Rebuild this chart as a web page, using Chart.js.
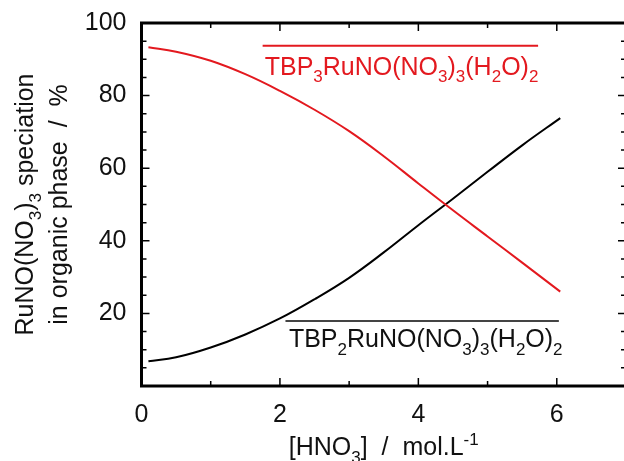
<!DOCTYPE html>
<html>
<head>
<meta charset="utf-8">
<script src="https://cdn.jsdelivr.net/npm/chart.js@4.4.0/dist/chart.umd.min.js"></script>
<style>
    html, body { margin: 0; padding: 0; background: #fff; overflow: hidden; }
    #wrap { width: 632px; height: 461px; }
</style>
</head>
<body>
<div id="wrap"><canvas id="chart" width="632" height="461"></canvas></div>
<script>
// [HNO3] in mol/L and the share of each complex in the organic phase (%)
const hno3 = [0.1, 0.5, 1, 1.5, 2, 2.5, 3, 3.5, 4, 4.5, 5, 5.5, 6.05];
const tbp3Share = [93.3, 92.1, 89.6, 85.9, 81.3, 76.1, 70.2, 63.3, 55.8, 48.4, 41.2, 34.0, 26.0];
const tbp2Share = [6.8, 7.9, 10.6, 14.2, 18.6, 23.9, 29.8, 36.8, 44.3, 51.6, 59.0, 66.3, 73.8];
const xRange = [0, 7];
const yRange = [0, 100];

const RED = '#e3191f';
const FONT = "'Liberation Sans', Arial, sans-serif";

// rich text pieces: [text, kind] where kind is n / sub / sup
const tbp3Label = [['TBP', 'n'], ['3', 'sub'], ['RuNO(NO', 'n'], ['3', 'sub'], [')', 'n'], ['3', 'sub'], ['(H', 'n'], ['2', 'sub'], ['O)', 'n'], ['2', 'sub']];
const tbp2Label = [['TBP', 'n'], ['2', 'sub'], ['RuNO(NO', 'n'], ['3', 'sub'], [')', 'n'], ['3', 'sub'], ['(H', 'n'], ['2', 'sub'], ['O)', 'n'], ['2', 'sub']];
const yTitle1 = [['RuNO(NO', 'n'], ['3', 'sub'], [')', 'n'], ['3', 'sub'], [' speciation', 'n']];
const yTitle2 = [['in organic phase  /  %', 'n']];
const xTitle = [['[HNO', 'n'], ['3', 'sub'], [']  /  mol.L', 'n'], ['-1', 'sup']];

function richWidth(ctx, segs, size) {
    let w = 0;
    segs.forEach(([t, k]) => {
        ctx.font = (k === 'n' ? size : Math.round(size * 0.68)) + 'px ' + FONT;
        w += ctx.measureText(t).width;
    });
    return w;
}

function drawRich(ctx, segs, x, y, size, color, align) {
    ctx.save();
    ctx.fillStyle = color;
    ctx.textBaseline = 'alphabetic';
    ctx.textAlign = 'left';
    let cx = x;
    if (align === 'center') cx = x - richWidth(ctx, segs, size) / 2;
    segs.forEach(([t, k]) => {
        const s = k === 'n' ? size : Math.round(size * 0.68);
        ctx.font = s + 'px ' + FONT;
        let dy = 0;
        if (k === 'sub') dy = size * 0.3;
        if (k === 'sup') dy = -size * 0.42;
        ctx.fillText(t, cx, y + dy);
        cx += ctx.measureText(t).width;
    });
    ctx.restore();
}

const decorations = {
    id: 'decorations',
    afterDraw(chart) {
        const { ctx, chartArea: a, scales } = chart;
        const xs = scales.x, ys = scales.y;
        ctx.save();

        // inward tick marks on all four sides
        ctx.strokeStyle = '#000';
        ctx.lineWidth = 1.5;
        ctx.beginPath();
        for (let v = 5; v < 100; v += 5) {
            const py = ys.getPixelForValue(v);
            const len = v % 20 === 0 ? 8 : 5;
            ctx.moveTo(a.left, py); ctx.lineTo(a.left + len, py);
            ctx.moveTo(a.right, py); ctx.lineTo(a.right - len, py);
        }
        for (let v = 1; v < 7; v++) {
            const px = xs.getPixelForValue(v);
            const len = v % 2 === 0 ? 8 : 5;
            ctx.moveTo(px, a.bottom); ctx.lineTo(px, a.bottom - len);
            ctx.moveTo(px, a.top); ctx.lineTo(px, a.top + len);
        }
        ctx.stroke();

        // frame
        ctx.lineWidth = 3;
        ctx.strokeRect(a.left, a.top, a.right - a.left, a.bottom - a.top);

        // curve labels with their overlines
        ctx.lineWidth = 2;
        ctx.strokeStyle = RED;
        ctx.beginPath();
        ctx.moveTo(xs.getPixelForValue(1.75), ys.getPixelForValue(93.7));
        ctx.lineTo(xs.getPixelForValue(5.73), ys.getPixelForValue(93.7));
        ctx.stroke();
        drawRich(ctx, tbp3Label, xs.getPixelForValue(1.78), ys.getPixelForValue(85.7), 25, RED, 'left');

        ctx.strokeStyle = '#444';
        ctx.beginPath();
        ctx.moveTo(xs.getPixelForValue(2.08), ys.getPixelForValue(17.9));
        ctx.lineTo(xs.getPixelForValue(6.03), ys.getPixelForValue(17.9));
        ctx.stroke();
        drawRich(ctx, tbp2Label, xs.getPixelForValue(2.13), ys.getPixelForValue(10.7), 25, '#111', 'left');

        // axis titles
        drawRich(ctx, xTitle, (a.left + a.right) / 2, 455, 25, '#111', 'center');
        const midY = (a.top + a.bottom) / 2;
        ctx.translate(33, midY);
        ctx.rotate(-Math.PI / 2);
        drawRich(ctx, yTitle1, 0, 0, 25, '#111', 'center');
        ctx.restore();
        ctx.save();
        ctx.translate(67, midY);
        ctx.rotate(-Math.PI / 2);
        drawRich(ctx, yTitle2, 0, 0, 25, '#111', 'center');
        ctx.restore();
    }
};

new Chart(document.getElementById('chart'), {
    type: 'line',
    data: {
        datasets: [{
            label: 'TBP3RuNO(NO3)3(H2O)2',
            data: hno3.map((x, i) => ({ x: x, y: tbp3Share[i] })),
            borderColor: RED,
            borderWidth: 2,
            pointRadius: 0,
            tension: 0.4,
            fill: false
        }, {
            label: 'TBP2RuNO(NO3)3(H2O)2',
            data: hno3.map((x, i) => ({ x: x, y: tbp2Share[i] })),
            borderColor: '#000',
            borderWidth: 2,
            pointRadius: 0,
            tension: 0.4,
            fill: false
        }]
    },
    options: {
        responsive: false,
        animation: false,
        devicePixelRatio: 1,
        layout: { padding: { top: 23, right: 6, left: 0, bottom: 0 } },
        plugins: { legend: { display: false }, tooltip: { enabled: false } },
        scales: {
            x: {
                type: 'linear',
                min: xRange[0],
                max: xRange[1],
                grid: { display: false, drawTicks: false },
                border: { display: false },
                ticks: {
                    stepSize: 2,
                    padding: 14,
                    color: '#111',
                    font: { family: FONT, size: 25 },
                    callback: v => v === 7 ? '' : v
                },
                afterFit: s => { s.height = 75; s.paddingRight = 0; s.paddingLeft = 0; }
            },
            y: {
                type: 'linear',
                min: yRange[0],
                max: yRange[1],
                grid: { display: false, drawTicks: false },
                border: { display: false },
                ticks: {
                    stepSize: 20,
                    padding: 15,
                    color: '#111',
                    font: { family: FONT, size: 25 },
                    callback: v => v === 0 ? '' : v
                },
                afterFit: s => { s.width = 141.5; s.paddingTop = 0; s.paddingBottom = 0; }
            }
        }
    },
    plugins: [decorations]
});
</script>
</body>
</html>
